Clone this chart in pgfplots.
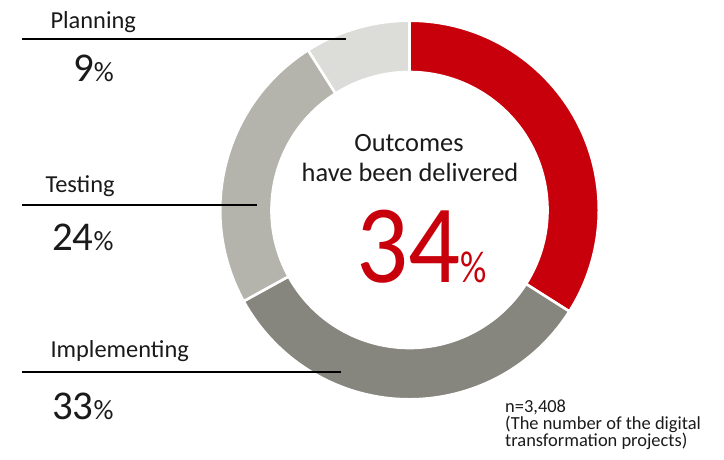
\documentclass[border=0pt]{standalone}
\usepackage{pgfplots}
\pgfplotsset{compat=1.18}
\usepackage{pgfplotstable}
\usepackage{fontspec}
\setmainfont{Carlito}

\definecolor{seg0}{HTML}{C8000B}
\definecolor{seg1}{HTML}{86867E}
\definecolor{seg2}{HTML}{B4B4AD}
\definecolor{seg3}{HTML}{DCDCD8}
\definecolor{txt}{HTML}{1A1A1A}

% share of projects by stage, clockwise from 12 o'clock
\pgfplotstableread{
stage value
Outcomes 34
Implementing 33
Testing 24
Planning 9
}\donutdata

\newcommand{\pct}[3]{{\fontsize{#1}{#1}\selectfont #3\fontsize{#2}{#2}\selectfont\%}}

\begin{document}
\begin{tikzpicture}
\begin{axis}[
    width=724bp, height=460bp, scale only axis,
    xmin=0, xmax=724, ymin=0, ymax=460,
    y dir=reverse,
    hide axis, clip=false,
]
\pgfplotsextra{
  \coordinate (C) at (axis cs:409.5,210);
  \gdef\startang{90}
  \foreach \i in {0,...,3}{
    \pgfplotstablegetelem{\i}{value}\of\donutdata
    \pgfmathsetmacro\endang{\startang-3.6*\pgfplotsretval}
    \fill[seg\i, draw=white, line width=2.6bp]
      ([shift={(\startang:189.3bp)}]C) arc[start angle=\startang, end angle=\endang, radius=189.3bp]
      -- ([shift={(\endang:138bp)}]C) arc[start angle=\endang, end angle=\startang, radius=138bp] -- cycle;
    \global\let\startang\endang
  }
  % leader lines
  \draw[black, line width=1.2bp] (axis cs:22,39) -- (axis cs:346,39);
  \draw[black, line width=1.2bp] (axis cs:22,205) -- (axis cs:257,205);
  \draw[black, line width=1.2bp] (axis cs:22,372) -- (axis cs:341,372);
}
\node[anchor=base west, txt, font=\fontsize{24.5}{24.5}\selectfont] at (axis cs:47,29) {Planning};
\node[anchor=base west, txt, inner sep=0pt] at (axis cs:73,82) {\pct{41}{28}{9}};
\node[anchor=base west, txt, font=\fontsize{24.5}{24.5}\selectfont] at (axis cs:42,193) {Testing};
\node[anchor=base west, txt, inner sep=0pt] at (axis cs:52,251) {\pct{41}{28}{24}};
\node[anchor=base west, txt, font=\fontsize{24.5}{24.5}\selectfont] at (axis cs:47,358) {Implementing};
\node[anchor=base west, txt, inner sep=0pt] at (axis cs:52,420) {\pct{41}{28}{33}};

\node[anchor=base, txt, font=\fontsize{26.5}{26.5}\selectfont, inner sep=0pt] at (axis cs:409,152) {Outcomes};
\node[anchor=base, txt, font=\fontsize{26.5}{26.5}\selectfont, inner sep=0pt] at (axis cs:410,182) {have been delivered};
\node[anchor=base west, seg0, inner sep=0pt] at (axis cs:356,283)
  {\scalebox{0.92}[1]{\fontsize{112}{112}\selectfont 34}\scalebox{0.82}[1]{\fontsize{45}{45}\selectfont\%}};

\node[anchor=base west, txt, inner sep=0pt, align=left, font=\fontsize{18.5}{17.5}\selectfont] at (axis cs:505,447)
  {n=3,408\\(The number of the digital\\transformation projects)};
\end{axis}
\pgfresetboundingbox
\path (current axis.south west) rectangle (current axis.north east);
\end{tikzpicture}
\end{document}
